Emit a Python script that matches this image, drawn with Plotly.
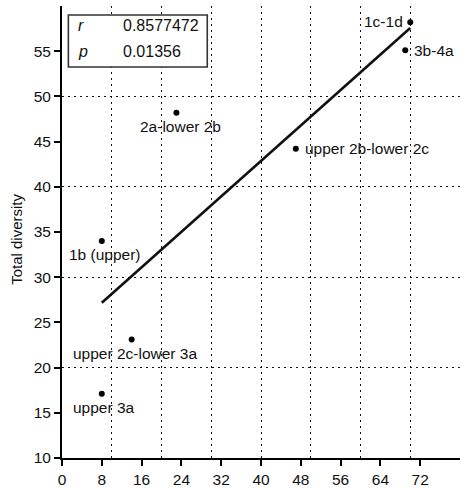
import numpy as np
import plotly.graph_objects as go

# Stratigraphic intervals and their values
intervals = ["1c-1d", "3b-4a", "2a-lower 2b", "upper 2b-lower 2c",
             "1b (upper)", "upper 2c-lower 3a", "upper 3a"]
x_values = [70, 69, 23, 47, 8, 14, 8]
total_diversity = [58.2, 55.1, 48.2, 44.2, 34.0, 23.1, 17.1]

# Correlation statistics shown in the inset box
stat_names = ["r", "p"]
stat_values = ["0.8577472", "0.01356"]

x_ticks = [0, 8, 16, 24, 32, 40, 48, 56, 64, 72]
y_ticks = [10, 15, 20, 25, 30, 35, 40, 45, 50, 55]
x_grid = [10, 20, 30, 40, 50, 60, 70]
y_grid = [20, 30, 40, 50, 60]

# label placement for each point: (xanchor, yanchor, xshift, yshift)
label_pos = [
    ("right", "middle", -5, 1),
    ("left", "middle", 7, 0),
    ("center", "top", 4, -3),
    ("left", "middle", 7, 0),
    ("center", "top", 3, -3),
    ("center", "top", 3, -3),
    ("center", "top", 2, -3),
]

FONT = "Liberation Sans, Arial, sans-serif"

# least-squares fit over the observed x span
slope, intercept = np.polyfit(x_values, total_diversity, 1)
fit_x = np.array([min(x_values), max(x_values)])
fit_y = slope * fit_x + intercept

fig = go.Figure()
fig.add_trace(go.Scatter(
    x=fit_x, y=fit_y, mode="lines",
    line=dict(color="#111111", width=2.6),
    hoverinfo="skip", showlegend=False,
))
fig.add_trace(go.Scatter(
    x=x_values, y=total_diversity, mode="markers",
    marker=dict(color="black", size=6),
    showlegend=False,
))

for name, xv, yv, (xa, ya, xs, ys) in zip(intervals, x_values, total_diversity, label_pos):
    fig.add_annotation(
        x=xv, y=yv, xref="x", yref="y", text=name, showarrow=False,
        xanchor=xa, yanchor=ya, xshift=xs, yshift=ys,
        font=dict(family=FONT, size=15.5, color="#111111"),
    )

# inset statistics box
fig.add_shape(
    type="rect", xref="paper", yref="paper",
    x0=0.016, x1=0.365, y0=0.865, y1=0.98,
    line=dict(color="#333333", width=1.6), fillcolor="white", layer="above",
)
for i, (nm, val) in enumerate(zip(stat_names, stat_values)):
    yy = [0.956, 0.899][i]
    fig.add_annotation(
        x=0.035, y=yy, xref="paper", yref="paper", text="<i>%s</i>" % nm,
        showarrow=False, xanchor="left", yanchor="middle",
        font=dict(family=FONT, size=16, color="#111111"),
    )
    fig.add_annotation(
        x=0.148, y=yy, xref="paper", yref="paper", text=val,
        showarrow=False, xanchor="left", yanchor="middle",
        font=dict(family=FONT, size=16, color="#111111"),
    )

# y-axis title
fig.add_annotation(
    x=-0.114, y=0.484, xref="paper", yref="paper", text="Total diversity",
    showarrow=False, textangle=-90, xanchor="center", yanchor="middle",
    font=dict(family=FONT, size=15, color="#111111"),
)

grid_style = dict(showgrid=True, gridcolor="#111111", gridwidth=1.2, griddash="2px,4px", ticklen=0)

fig.update_xaxes(
    range=[0, 80], tickvals=x_ticks, showgrid=False, zeroline=False,
    showline=True, linecolor="black", linewidth=2,
    ticks="outside", ticklen=6, tickwidth=1.6, tickcolor="black",
    tickfont=dict(family=FONT, size=15.5, color="#111111"),
    minor=dict(tickvals=x_grid, **grid_style),
)
fig.update_yaxes(
    range=[10, 60], tickvals=y_ticks, showgrid=False, zeroline=False,
    showline=True, linecolor="black", linewidth=2,
    ticks="outside", ticklen=6, tickwidth=1.6, tickcolor="black",
    tickfont=dict(family=FONT, size=15.5, color="#111111"),
    minor=dict(tickvals=y_grid, **grid_style),
)

fig.update_layout(
    width=460, height=488,
    margin=dict(l=62, r=0, t=6, b=26),
    plot_bgcolor="white", paper_bgcolor="white",
    font=dict(family=FONT, color="#111111"),
)

fig.write_html("out.html")
